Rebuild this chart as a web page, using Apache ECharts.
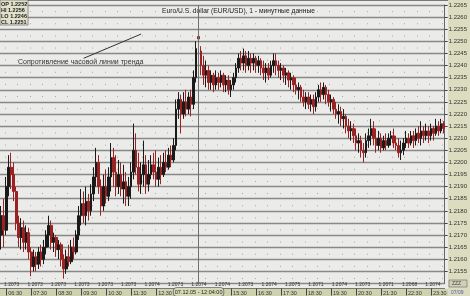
<!DOCTYPE html>
<html><head><meta charset="utf-8">
<script src="https://cdn.jsdelivr.net/npm/echarts@6/dist/echarts.min.js"></script>
<style>html,body{margin:0;padding:0;background:#ebebe9}#c{width:470px;height:296px}</style>
</head><body><div id="c"></div>
<script>
// ---- DATA ----
const chartTitle = 'Euro/U.S. dollar (EUR/USD), 1 - минутные данные';
const annotationText = 'Сопротивление часовой линии тренда';
const cursorLabel = '07.12.05 - 12:04:00';
const cursorIndex = 79;
const startTime = '06:18';
const stepMinutes = 6;
const tickLabels = ['06:30','07:30','08:30','09:30','10:30','11:30','12:30','13:30','14:30','15:30','16:30','17:30','18:30','19:30','20:30','21:30','22:30','23:30'];
const bottomVals = ['1.2073','1.2073','1.2073','1.2073','1.2073','1.2073','1.2074','1.2073','1.2074','1.2074','1.2073','1.2074','1.2075','1.2071','1.2074','1.2073','1.2071','1.2068','1.2074'];
const trendStart = [32.9, 1.2243];
const trendEnd = [56.3, 1.2253];

const open = [
1.2170,1.2178,1.2172,1.2190,1.2198,1.2195,1.2188,1.2175,1.2169,1.2173,
1.2167,1.2171,1.2163,1.2157,1.2161,1.2158,1.2163,1.2160,1.2165,1.2170,
1.2174,1.2167,1.2169,1.2164,1.2166,1.2160,1.2156,1.2161,1.2159,1.2165,
1.2163,1.2170,1.2178,1.2183,1.2178,1.2184,1.2180,1.2187,1.2194,1.2200,
1.2190,1.2182,1.2190,1.2186,1.2194,1.2202,1.2196,1.2190,1.2195,1.2189,
1.2192,1.2186,1.2190,1.2196,1.2205,1.2198,1.2191,1.2195,1.2199,1.2191,
1.2195,1.2199,1.2196,1.2193,1.2198,1.2195,1.2200,1.2198,1.2203,1.2201,
1.2207,1.2222,1.2226,1.2220,1.2225,1.2222,1.2227,1.2224,1.2235,1.2252,
1.2246,1.2240,1.2236,1.2238,1.2233,1.2236,1.2232,1.2235,1.2233,1.2236,
1.2232,1.2234,1.2230,1.2232,1.2235,1.2239,1.2243,1.2241,1.2244,1.2240,
1.2243,1.2241,1.2243,1.2240,1.2242,1.2239,1.2237,1.2239,1.2236,1.2240,
1.2242,1.2240,1.2238,1.2239,1.2236,1.2237,1.2234,1.2235,1.2232,1.2230,
1.2231,1.2227,1.2225,1.2227,1.2224,1.2226,1.2223,1.2227,1.2230,1.2228,
1.2231,1.2228,1.2225,1.2226,1.2222,1.2220,1.2221,1.2218,1.2219,1.2215,
1.2213,1.2214,1.2211,1.2208,1.2209,1.2205,1.2204,1.2209,1.2211,1.2214,
1.2210,1.2207,1.2210,1.2206,1.2209,1.2207,1.2210,1.2211,1.2208,1.2207,
1.2204,1.2205,1.2208,1.2210,1.2208,1.2211,1.2209,1.2212,1.2210,1.2213,
1.2211,1.2213,1.2211,1.2214,1.2212,1.2215,1.2213,1.2216];
const close = [
1.2178,1.2172,1.2190,1.2198,1.2195,1.2188,1.2175,1.2169,1.2173,1.2167,
1.2171,1.2163,1.2157,1.2161,1.2158,1.2163,1.2160,1.2165,1.2170,1.2174,
1.2167,1.2169,1.2164,1.2166,1.2160,1.2156,1.2161,1.2159,1.2165,1.2163,
1.2170,1.2178,1.2183,1.2178,1.2184,1.2180,1.2187,1.2194,1.2200,1.2190,
1.2182,1.2190,1.2186,1.2194,1.2202,1.2196,1.2190,1.2195,1.2189,1.2192,
1.2186,1.2190,1.2196,1.2205,1.2198,1.2191,1.2195,1.2199,1.2191,1.2195,
1.2199,1.2196,1.2193,1.2198,1.2195,1.2200,1.2198,1.2203,1.2201,1.2207,
1.2222,1.2226,1.2220,1.2225,1.2222,1.2227,1.2224,1.2235,1.2247,1.2251,
1.2240,1.2236,1.2238,1.2233,1.2236,1.2232,1.2235,1.2233,1.2236,1.2232,
1.2234,1.2230,1.2232,1.2235,1.2239,1.2243,1.2241,1.2244,1.2240,1.2243,
1.2241,1.2243,1.2240,1.2242,1.2239,1.2237,1.2239,1.2236,1.2240,1.2242,
1.2240,1.2238,1.2239,1.2236,1.2237,1.2234,1.2235,1.2232,1.2230,1.2231,
1.2227,1.2225,1.2227,1.2224,1.2226,1.2223,1.2227,1.2230,1.2228,1.2231,
1.2228,1.2225,1.2226,1.2222,1.2220,1.2221,1.2218,1.2219,1.2215,1.2213,
1.2214,1.2211,1.2208,1.2209,1.2205,1.2204,1.2209,1.2211,1.2214,1.2210,
1.2207,1.2210,1.2206,1.2209,1.2207,1.2210,1.2211,1.2208,1.2207,1.2204,
1.2205,1.2208,1.2210,1.2208,1.2211,1.2209,1.2212,1.2210,1.2213,1.2211,
1.2213,1.2211,1.2214,1.2212,1.2215,1.2213,1.2216,1.2214];
const low = [
1.2164,1.2165,1.2170,1.2186,1.2189,1.2184,1.2172,1.2165,1.2164,1.2163,
1.2164,1.2160,1.2153,1.2155,1.2155,1.2156,1.2157,1.2158,1.2162,1.2165,
1.2164,1.2163,1.2161,1.2160,1.2157,1.2152,1.2154,1.2157,1.2158,1.2160,
1.2162,1.2168,1.2174,1.2175,1.2174,1.2176,1.2178,1.2184,1.2190,1.2187,
1.2178,1.2180,1.2183,1.2184,1.2188,1.2190,1.2186,1.2187,1.2186,1.2183,
1.2182,1.2182,1.2185,1.2193,1.2195,1.2188,1.2187,1.2190,1.2187,1.2188,
1.2193,1.2193,1.2190,1.2190,1.2191,1.2194,1.2196,1.2197,1.2198,1.2200,
1.2205,1.2218,1.2212,1.2218,1.2219,1.2220,1.2219,1.2222,1.2233,1.2246,
1.2236,1.2232,1.2231,1.2230,1.2230,1.2229,1.2230,1.2230,1.2231,1.2229,
1.2229,1.2228,1.2227,1.2230,1.2233,1.2237,1.2238,1.2238,1.2237,1.2238,
1.2237,1.2238,1.2237,1.2237,1.2236,1.2234,1.2233,1.2234,1.2235,1.2237,
1.2236,1.2235,1.2234,1.2233,1.2232,1.2231,1.2230,1.2229,1.2228,1.2226,
1.2225,1.2223,1.2222,1.2222,1.2221,1.2220,1.2221,1.2225,1.2225,1.2226,
1.2224,1.2223,1.2221,1.2220,1.2218,1.2216,1.2215,1.2214,1.2212,1.2210,
1.2209,1.2208,1.2205,1.2204,1.2202,1.2200,1.2202,1.2206,1.2207,1.2207,
1.2204,1.2205,1.2204,1.2205,1.2205,1.2206,1.2207,1.2206,1.2205,1.2202,
1.2201,1.2203,1.2206,1.2206,1.2207,1.2206,1.2207,1.2208,1.2207,1.2208,
1.2209,1.2208,1.2209,1.2209,1.2211,1.2211,1.2212,1.2212];
const high = [
1.2182,1.2185,1.2194,1.2203,1.2204,1.2200,1.2190,1.2178,1.2177,1.2176,
1.2174,1.2173,1.2165,1.2164,1.2163,1.2165,1.2166,1.2168,1.2172,1.2178,
1.2176,1.2171,1.2170,1.2168,1.2167,1.2162,1.2164,1.2166,1.2168,1.2169,
1.2172,1.2182,1.2189,1.2188,1.2190,1.2187,1.2191,1.2198,1.2206,1.2203,
1.2193,1.2195,1.2197,1.2198,1.2208,1.2206,1.2203,1.2201,1.2200,1.2199,
1.2196,1.2194,1.2200,1.2216,1.2212,1.2204,1.2200,1.2209,1.2203,1.2201,
1.2203,1.2204,1.2205,1.2202,1.2203,1.2204,1.2205,1.2206,1.2207,1.2210,
1.2226,1.2229,1.2228,1.2229,1.2230,1.2229,1.2230,1.2238,1.2250,1.2256,
1.2248,1.2244,1.2242,1.2240,1.2238,1.2237,1.2238,1.2237,1.2238,1.2237,
1.2236,1.2236,1.2234,1.2237,1.2241,1.2245,1.2246,1.2247,1.2246,1.2246,
1.2245,1.2245,1.2244,1.2244,1.2243,1.2242,1.2241,1.2241,1.2242,1.2245,
1.2245,1.2242,1.2241,1.2240,1.2239,1.2238,1.2237,1.2236,1.2235,1.2233,
1.2232,1.2230,1.2229,1.2229,1.2228,1.2228,1.2229,1.2232,1.2233,1.2233,
1.2232,1.2230,1.2228,1.2227,1.2225,1.2224,1.2223,1.2222,1.2220,1.2218,
1.2217,1.2216,1.2214,1.2212,1.2211,1.2208,1.2212,1.2214,1.2218,1.2217,
1.2214,1.2213,1.2212,1.2211,1.2212,1.2212,1.2213,1.2214,1.2211,1.2210,
1.2209,1.2210,1.2213,1.2212,1.2213,1.2213,1.2214,1.2215,1.2217,1.2215,
1.2216,1.2215,1.2216,1.2215,1.2218,1.2217,1.2218,1.2217];

// ---- BUILD ----
const [sh, sm] = startTime.split(':').map(Number);
const times = open.map((_, i) => {
  const t = sh * 60 + sm + i * stepMinutes;
  const h = Math.floor(t / 60) % 24, m = t % 60;
  return String(h).padStart(2, '0') + ':' + String(m).padStart(2, '0');
});
const ohlc = open.map((o, i) => [o, close[i], low[i], high[i]]);
const isTick = (i, v) => tickLabels.includes(v);
const infoText = ['OP ' + open[cursorIndex].toFixed(4), 'HI ' + high[cursorIndex].toFixed(4),
  'LO ' + low[cursorIndex].toFixed(4), 'CL ' + close[cursorIndex].toFixed(4)].join('\n');

const FONT = 'Liberation Sans, Arial, sans-serif';
const chart = echarts.init(document.getElementById('c'), null, {renderer: 'canvas'});
chart.setOption({
  animation: false,
  backgroundColor: '#ebebe9',
  textStyle: {fontFamily: FONT},
  title: {text: chartTitle, left: 162, top: 8, padding: 0,
    textStyle: {fontSize: 6.7, fontWeight: 'normal', color: '#222', fontFamily: FONT}},
  grid: {left: 0, right: 22, top: 5, bottom: 12, containLabel: false},
  xAxis: [{
    type: 'category', data: times, boundaryGap: true, offset: 5,
    axisLine: {show: true, lineStyle: {color: '#777', width: 1}},
    axisTick: {show: true, interval: isTick, alignWithLabel: true, length: 7, lineStyle: {color: '#444'}},
    axisLabel: {show: true, interval: isTick, align: 'left', margin: 1.5, padding: [0, 0, 0, 2],
      fontSize: 5.5, color: '#333', fontFamily: FONT},
    splitLine: {show: true, interval: (i) => i % 5 === 2,
      lineStyle: {color: '#a8a8a8', width: 1, type: [1, 11.13], dashOffset: 6}},
    axisPointer: {show: true, value: cursorIndex, status: 'show', snap: false, triggerTooltip: false,
      type: 'line', lineStyle: {color: '#707070', width: 1, type: 'solid'},
      label: {show: true, formatter: cursorLabel, backgroundColor: '#d6d9b6', color: '#222',
        fontSize: 5.5, padding: [1, 1], borderColor: '#666', borderWidth: 0.8, margin: 1, fontFamily: FONT}}
  }, {
    type: 'category', data: bottomVals, gridIndex: 0, position: 'bottom', offset: -1,
    axisLine: {show: false}, axisTick: {show: false}, splitLine: {show: false},
    axisLabel: {interval: 0, margin: 0, fontSize: 5, color: '#333', fontFamily: FONT}
  }],
  yAxis: {
    type: 'value', position: 'right', min: 1.2150, max: 1.2265, interval: 0.0005,
    axisLine: {show: true, lineStyle: {color: '#666'}},
    axisTick: {show: true, length: 3, lineStyle: {color: '#444'}},
    axisLabel: {margin: 4, fontSize: 6, color: '#333', showMinLabel: false,
      fontFamily: 'Liberation Sans Narrow, Arial Narrow, Liberation Sans, sans-serif',
      formatter: (v) => v.toFixed(4)},
    splitLine: {show: true, lineStyle: {color: '#888', width: 1.3}}
  },
  series: [{
    type: 'candlestick', xAxisIndex: 0, yAxisIndex: 0, data: ohlc, barWidth: '85%',
    emphasis: {disabled: true}, silent: true,
    itemStyle: {color: '#1a1a1a', color0: '#9a2222', borderColor: '#1a1a1a', borderColor0: '#9a2222', borderWidth: 1},
    markLine: {silent: true, symbol: ['none', 'none'], label: {show: false},
      lineStyle: {color: '#333', width: 1, type: 'solid'},
      data: [[{coord: trendStart}, {coord: trendEnd}]]}
  }],
  graphic: [
    {type: 'rect', z: -1, shape: {x: 448, y: 0, width: 22, height: 296}, style: {fill: '#dcdcc0'}},
    {type: 'rect', z: -1, shape: {x: 0, y: 289, width: 448, height: 7}, style: {fill: '#cfd3ad'}},
    {type: 'line', z: 5, shape: {x1: 0, y1: 0.5, x2: 448, y2: 0.5}, style: {stroke: '#777', lineWidth: 1}},
    {type: 'rect', z: 20, shape: {x: 0, y: 0, width: 28, height: 25}, style: {fill: '#e2e2cc', stroke: '#777', lineWidth: 0.8}},
    {type: 'text', z: 21, x: 1, y: 1, style: {text: infoText, fontSize: 5.5, fontWeight: 'bold', lineHeight: 6, fill: '#222', fontFamily: FONT}},
    {type: 'text', z: 21, x: 18, y: 58.5, style: {text: annotationText, fontSize: 7, fill: '#333', fontFamily: FONT}},
    {type: 'rect', z: 20, shape: {x: 449, y: 280, width: 18, height: 7}, style: {fill: '#d0d0b8', stroke: '#666', lineWidth: 0.6}},
    {type: 'text', z: 21, x: 452, y: 281, style: {text: 'ZZZ', fontSize: 5, fill: '#444', fontFamily: FONT}},
    {type: 'text', z: 21, x: 451, y: 290, style: {text: '07/09', fontSize: 5, fill: '#4a5aa0', fontFamily: FONT}}
  ]
});
</script></body></html>
